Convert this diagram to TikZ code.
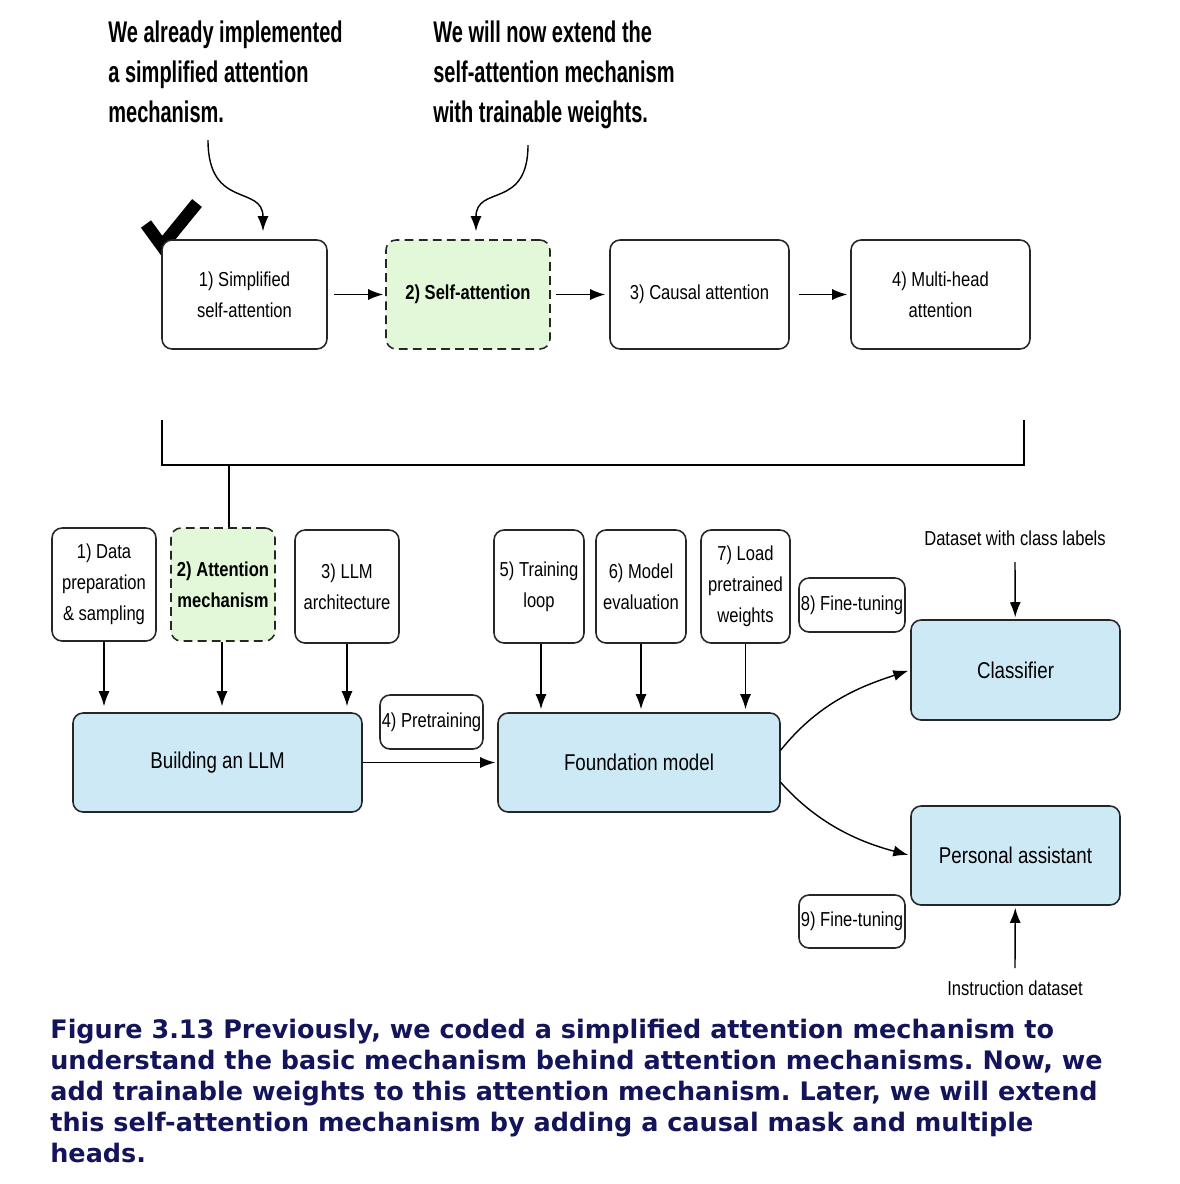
\documentclass[tikz,border=0pt]{standalone}
\usepackage{fontspec}
\usepackage{xcolor}
\usepackage{tikz}
\usetikzlibrary{arrows.meta}
\newfontfamily\narrowfont[FakeStretch=0.82]{Liberation Sans}
\newfontfamily\notefont[FakeStretch=0.67]{Liberation Sans}
\newfontfamily\capfont{DejaVu Sans}
\definecolor{llmblue}{HTML}{CDE9F5}
\definecolor{stepgreen}{HTML}{E2F8D8}
\definecolor{capnavy}{HTML}{14145A}
\frenchspacing

\begin{document}
\begin{tikzpicture}[x=0.02cm, y=-0.02cm,
    stepbox/.style={shape=rectangle, rounded corners=0.2cm, draw=black!85, line width=0.9pt, fill=white, align=center, inner sep=0pt, font=\narrowfont\fontsize{11.5}{17.5}\selectfont},
    nowbox/.style={stepbox, fill=stepgreen, dash pattern=on 5pt off 3pt, font=\narrowfont\bfseries\fontsize{11.5}{17.5}\selectfont},
    bigbox/.style={stepbox, fill=llmblue, font=\narrowfont\fontsize{13}{17}\selectfont},
    arrow/.style={-{Latex[width=2.2mm, length=3mm]}, line width=0.8pt},
    note/.style={align=left, inner sep=0pt, font=\notefont\bfseries\fontsize{17}{22.8}\selectfont}]
    \useasboundingbox (0,0) rectangle (1180,1184);

    \node[note, anchor=north west] (n1) at (108,20) {We already implemented\\a simplified attention\\mechanism.};
    \node[note, anchor=north west] (n2) at (433,20) {We will now extend the\\self-attention mechanism\\with trainable weights.};
    \coordinate (c1) at (208,140);
    \coordinate (c2) at (528,145);

    \draw[line width=0.25cm] (146,224) -- (162,246) -- (197,203);

    \node[stepbox, minimum width=3.3cm, minimum height=2.18cm] (t1) at (244.5,294.5) {1) Simplified\\self-attention};
    \node[nowbox, minimum width=3.28cm, minimum height=2.18cm] (t2) at (468,294.5) {2) Self-attention};
    \node[stepbox, minimum width=3.58cm, minimum height=2.18cm] (t3) at (699.5,294.5) {3) Causal attention};
    \node[stepbox, minimum width=3.58cm, minimum height=2.18cm] (t4) at (940.5,294.5) {4) Multi-head\\attention};

    \draw[arrow, shorten >=0.16cm] (c1) .. controls +(0,70) and +(0,-55) .. ([xshift=0.37cm]t1.north);
    \draw[arrow, shorten >=0.16cm] (c2) .. controls +(0,65) and +(0,-55) .. ([xshift=0.16cm]t2.north);
    \draw[arrow, shorten <=0.12cm, shorten >=0.04cm] (t1) -- (t2);
    \draw[arrow, shorten <=0.1cm, shorten >=0.08cm] (t2) -- (t3);
    \draw[arrow, shorten <=0.18cm, shorten >=0.06cm] (t3) -- (t4);

    \node[stepbox, minimum width=2.08cm, minimum height=2.26cm] (b1) at (104,584.5) {1) Data\\preparation\\\& sampling};
    \node[nowbox, minimum width=2.08cm, minimum height=2.26cm] (b2) at (223,584.5) {2) Attention\\mechanism};
    \node[stepbox, minimum width=2.08cm, minimum height=2.26cm] (b3) at (347,586.5) {3) LLM\\architecture};
    \node[stepbox, minimum width=1.8cm, minimum height=2.26cm] (b5) at (539,586.5) {5) Training\\loop};
    \node[stepbox, minimum width=1.8cm, minimum height=2.26cm] (b6) at (641,586.5) {6) Model\\evaluation};
    \node[stepbox, minimum width=1.78cm, minimum height=2.26cm] (b7) at (745.5,586.5) {7) Load\\pretrained\\weights};
    \node[stepbox, minimum width=2.12cm, minimum height=1.08cm] (b8) at (852,605) {8) Fine-tuning};
    \node[stepbox, minimum width=2.06cm, minimum height=1.08cm] (b4) at (431.5,722) {4) Pretraining};
    \node[stepbox, minimum width=2.12cm, minimum height=1.06cm] (b9) at (852,921.5) {9) Fine-tuning};

    \coordinate (k1) at (162,420);
    \coordinate (k2) at (1024,420);
    \coordinate (k) at (229,465);
    \draw[line width=0.8pt] (k1) |- (k2 |- k) -- (k2);
    \draw[line width=0.8pt] (k) -- (k |- b2.north);

    \node[bigbox, minimum width=5.78cm, minimum height=1.98cm] (L) at (217.5,762.5) {Building an LLM};
    \node[bigbox, minimum width=5.64cm, minimum height=1.98cm] (F) at (639,762.5) {Foundation model};
    \node[bigbox, minimum width=4.18cm, minimum height=2cm] (C) at (1015.5,670) {Classifier};
    \node[bigbox, minimum width=4.18cm, minimum height=1.98cm] (P) at (1015.5,855.5) {Personal assistant};

    \draw[arrow, shorten >=0.12cm] (b1) -- (b1 |- L.north);
    \draw[arrow, shorten >=0.12cm] ([xshift=-0.02cm]b2.south) -- ([xshift=-0.02cm]b2.south |- L.north);
    \draw[arrow, shorten >=0.12cm] (b3) -- (b3 |- L.north);
    \draw[arrow, shorten >=0.06cm] ([xshift=0.04cm]b5.south) -- ([xshift=0.04cm]b5.south |- F.north);
    \draw[arrow, shorten >=0.06cm] (b6) -- (b6 |- F.north);
    \draw[arrow, shorten >=0.06cm] (b7) -- (b7 |- F.north);
    \draw[arrow, shorten >=0.04cm] (L) -- (F);
    \draw[arrow, shorten >=0.04cm] (F.5) .. controls +(40,-50) and +(-45,15) .. (C.west);
    \draw[arrow, shorten >=0.04cm] (F.-8) .. controls +(40,45) and +(-45,-12) .. (P.west);

    \node[font=\narrowfont\fontsize{11.5}{14}\selectfont] (d1) at (1015,538) {Dataset with class labels};
    \node[font=\narrowfont\fontsize{11.5}{14}\selectfont] (d2) at (1015,988) {Instruction dataset};
    \coordinate (d0) at (1015,562);
    \coordinate (i0) at (1015,968);
    \draw[arrow, shorten >=0.04cm] (d0) -- (C);
    \draw[arrow, shorten >=0.04cm] (i0) -- (P);

    \node[anchor=north west, align=left, inner sep=0pt, text=capnavy, font=\capfont\bfseries\fontsize{14.5}{17.6}\selectfont] (cap) at (50,1019) {Figure 3.13 Previously, we coded a simplified attention mechanism to\\understand the basic mechanism behind attention mechanisms. Now, we\\add trainable weights to this attention mechanism. Later, we will extend\\this self-attention mechanism by adding a causal mask and multiple\\heads.};
\end{tikzpicture}
\end{document}
